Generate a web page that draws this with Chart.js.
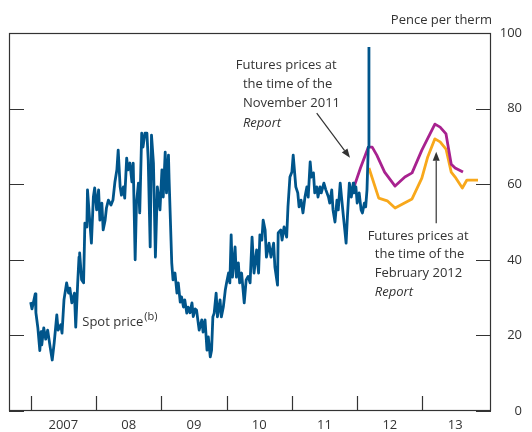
<!DOCTYPE html>
<html>
<head>
<meta charset="utf-8">
<script src="https://cdn.jsdelivr.net/npm/chart.js@4/dist/chart.umd.min.js"></script>
<style>
  html, body { margin: 0; padding: 0; background: #fff; }
</style>
</head>
<body>
<canvas id="gasChart" width="532" height="432"></canvas>
<script>
// UK wholesale gas prices: spot price and futures curves (pence per therm)

const yearTicks = [2007, 2008, 2009, 2010, 2011, 2012, 2013];
const yearLabels = ["2007", "08", "09", "10", "11", "12", "13"];
const valueTicks = [0, 20, 40, 60, 80, 100];

// spot price, dates as decimal years
const spotDates = [
  2007.00, 2007.02, 2007.07, 2007.08, 2007.11, 2007.14, 2007.16, 2007.17, 2007.20, 2007.23,
  2007.26, 2007.30, 2007.33, 2007.36, 2007.40, 2007.42, 2007.46, 2007.48, 2007.51, 2007.55,
  2007.58, 2007.60, 2007.63, 2007.67, 2007.69, 2007.72, 2007.74, 2007.75, 2007.78, 2007.81,
  2007.83, 2007.86, 2007.87, 2007.90, 2007.93, 2007.96, 2007.98, 2008.01, 2008.04, 2008.06,
  2008.09, 2008.11, 2008.14, 2008.16, 2008.19, 2008.23, 2008.26, 2008.29, 2008.32, 2008.34,
  2008.37, 2008.39, 2008.42, 2008.44, 2008.47, 2008.49, 2008.52, 2008.55, 2008.57, 2008.60,
  2008.62, 2008.65, 2008.67, 2008.70, 2008.72, 2008.75, 2008.78, 2008.80, 2008.83, 2008.85,
  2008.88, 2008.91, 2008.94, 2008.98, 2009.01, 2009.03, 2009.06, 2009.08, 2009.11, 2009.12,
  2009.16, 2009.18, 2009.21, 2009.24, 2009.26, 2009.29, 2009.31, 2009.34, 2009.36, 2009.39,
  2009.41, 2009.44, 2009.47, 2009.49, 2009.52, 2009.54, 2009.58, 2009.62, 2009.64, 2009.67,
  2009.70, 2009.72, 2009.75, 2009.77, 2009.79, 2009.81, 2009.84, 2009.86, 2009.90, 2009.92,
  2009.95, 2009.98, 2010.00, 2010.03, 2010.05, 2010.07, 2010.09, 2010.13, 2010.15, 2010.18,
  2010.20, 2010.23, 2010.27, 2010.30, 2010.33, 2010.36, 2010.39, 2010.42, 2010.46, 2010.49,
  2010.51, 2010.54, 2010.56, 2010.59, 2010.61, 2010.65, 2010.68, 2010.72, 2010.74, 2010.78,
  2010.79, 2010.83, 2010.85, 2010.88, 2010.92, 2010.94, 2010.97, 2011.00, 2011.02, 2011.06,
  2011.09, 2011.11, 2011.14, 2011.17, 2011.20, 2011.23, 2011.25, 2011.28, 2011.30, 2011.33,
  2011.35, 2011.38, 2011.40, 2011.43, 2011.45, 2011.49, 2011.52, 2011.56, 2011.58, 2011.61,
  2011.63, 2011.66, 2011.69, 2011.71, 2011.74, 2011.76, 2011.79, 2011.81, 2011.83, 2011.85,
  2011.88, 2011.91, 2011.94, 2011.95, 2011.98, 2012.00, 2012.03, 2012.06, 2012.08, 2012.11,
  2012.13, 2012.15, 2012.17, 2012.18
];
const spotPrice = [
  28.8, 27.0, 31.0, 26.0, 22.0, 16.0, 21.0, 17.5, 22.0, 19.0,
  21.4, 16.7, 13.5, 18.0, 25.4, 21.4, 22.8, 20.6, 29.4, 33.9,
  31.2, 32.5, 28.6, 31.2, 22.2, 33.9, 40.7, 41.8, 34.7, 33.9,
  49.7, 48.7, 58.5, 51.3, 44.4, 56.6, 59.0, 53.2, 58.5, 50.5,
  55.0, 47.9, 50.5, 53.7, 55.8, 54.5, 55.8, 60.6, 63.8, 69.0,
  59.3, 57.1, 59.3, 56.3, 66.9, 63.8, 65.6, 60.6, 65.6, 40.0,
  55.0, 60.3, 52.4, 73.5, 69.8, 73.5, 73.5, 66.4, 43.4, 73.0,
  65.6, 40.7, 59.3, 53.2, 63.8, 56.6, 68.5, 57.7, 67.7, 61.1,
  39.2, 34.7, 36.5, 31.2, 33.9, 28.8, 30.2, 27.5, 29.4, 25.9,
  27.5, 26.0, 28.6, 25.0, 27.0, 26.7, 21.4, 24.1, 20.9, 24.1,
  16.1, 19.6, 14.3, 16.1, 24.9, 25.9, 31.2, 24.9, 29.4, 24.9,
  27.5, 32.0, 33.9, 36.5, 33.9, 46.6, 35.4, 43.4, 35.4, 39.2,
  33.9, 36.5, 28.6, 34.7, 35.6, 33.9, 46.0, 36.5, 42.6, 36.5,
  46.6, 45.2, 50.5, 47.9, 40.7, 44.4, 40.7, 44.4, 38.1, 33.3,
  47.1, 47.9, 45.2, 48.7, 46.0, 54.0, 61.9, 63.2, 67.7, 59.3,
  57.7, 54.0, 55.8, 52.4, 56.6, 59.3, 56.6, 65.9, 61.9, 63.0,
  57.7, 59.3, 56.6, 59.3, 57.7, 60.3, 58.5, 56.6, 55.0, 58.5,
  53.2, 50.0, 55.8, 53.2, 60.3, 56.6, 51.3, 47.9, 44.4, 51.3,
  60.3, 56.6, 60.3, 57.7, 59.3, 55.0, 57.7, 53.2, 52.4, 55.0,
  54.0, 58.5, 69.8, 96.3
];

// futures curve at the time of the November 2011 Report
const novDates = [2011.94, 2012.05, 2012.17, 2012.23, 2012.30, 2012.42, 2012.58, 2012.73,
  2012.84, 2012.99, 2013.19, 2013.27, 2013.36, 2013.44, 2013.50, 2013.62];
const novPrice = [58.7, 64.3, 69.8, 69.8, 67.7, 63.2, 59.5, 61.9,
  63.0, 69.0, 75.9, 75.1, 73.3, 65.3, 64.3, 63.2];

// futures curve at the time of the February 2012 Report
const febDates = [2012.18, 2012.33, 2012.46, 2012.58, 2012.84, 2012.99, 2013.08, 2013.19,
  2013.27, 2013.36, 2013.44, 2013.50, 2013.61, 2013.68, 2013.85];
const febPrice = [64.3, 56.3, 55.6, 53.7, 56.1, 61.6, 67.2, 72.0,
  71.2, 69.3, 63.2, 61.9, 59.0, 61.1, 61.1];

const FONT = "'Open Sans', 'Noto Sans', sans-serif";
const INK = "#333333";

function points(xs, ys) {
  return xs.map((x, i) => ({ x: x, y: ys[i] }));
}

function arrow(ctx, x1, y1, x2, y2) {
  const ang = Math.atan2(y2 - y1, x2 - x1);
  const len = 9, half = 3.5;
  ctx.beginPath();
  ctx.moveTo(x1, y1);
  ctx.lineTo(x2 - Math.cos(ang) * len, y2 - Math.sin(ang) * len);
  ctx.stroke();
  ctx.beginPath();
  ctx.moveTo(x2, y2);
  ctx.lineTo(x2 - Math.cos(ang) * len - Math.sin(ang) * half, y2 - Math.sin(ang) * len + Math.cos(ang) * half);
  ctx.lineTo(x2 - Math.cos(ang) * len + Math.sin(ang) * half, y2 - Math.sin(ang) * len - Math.cos(ang) * half);
  ctx.closePath();
  ctx.fill();
}

// box, inward tick marks and the text notes
const frame = {
  id: "frame",
  afterDraw(chart) {
    const ctx = chart.ctx;
    const a = chart.chartArea;
    const x = chart.scales.x, y = chart.scales.y;
    ctx.save();
    ctx.strokeStyle = INK;
    ctx.fillStyle = INK;
    ctx.lineWidth = 1.2;
    ctx.strokeRect(a.left + 0.5, a.top + 0.5, a.right - a.left - 1, a.bottom - a.top - 1);

    ctx.beginPath();
    valueTicks.forEach(v => {
      const py = Math.round(y.getPixelForValue(v)) + 0.5;
      ctx.moveTo(a.left, py); ctx.lineTo(a.left + 15, py);
      ctx.moveTo(a.right - 15, py); ctx.lineTo(a.right, py);
    });
    yearTicks.forEach(t => {
      const px = Math.round(x.getPixelForValue(t)) + 0.5;
      ctx.moveTo(px, a.bottom); ctx.lineTo(px, a.bottom - 15);
    });
    ctx.stroke();

    ctx.textBaseline = "middle";
    ctx.font = "13px " + FONT;
    ctx.textAlign = "right";
    ctx.fillText("Pence per therm", a.right + 1, 20);

    ctx.textAlign = "left";
    // November 2011 note
    const n1 = x.getPixelForValue(2010.25);
    ctx.fillText("Futures prices at", x.getPixelForValue(2010.14), y.getPixelForValue(91.5));
    ctx.fillText("the time of the", n1, y.getPixelForValue(86.5));
    ctx.fillText("November 2011", n1, y.getPixelForValue(81.3));
    // February 2012 note
    const n2 = x.getPixelForValue(2012.27);
    ctx.fillText("Futures prices at", x.getPixelForValue(2012.16), y.getPixelForValue(46.3));
    ctx.fillText("the time of the", n2, y.getPixelForValue(41.5));
    ctx.fillText("February 2012", n2, y.getPixelForValue(36.5));
    // spot label with superscript
    const sx = x.getPixelForValue(2007.79), sy = y.getPixelForValue(23.5);
    ctx.fillText("Spot price", sx, sy);
    const w = ctx.measureText("Spot price").width;
    ctx.font = "11px " + FONT;
    ctx.fillText("(b)", sx + w + 1, sy - 5);

    ctx.font = "italic 13px " + FONT;
    ctx.fillText("Report", n1, y.getPixelForValue(76.2));
    ctx.fillText("Report", n2, y.getPixelForValue(31.4));

    ctx.lineWidth = 1.2;
    arrow(ctx, x.getPixelForValue(2011.38), y.getPixelForValue(78.8),
      x.getPixelForValue(2011.89), y.getPixelForValue(67.0));
    arrow(ctx, x.getPixelForValue(2013.21), y.getPixelForValue(49.7),
      x.getPixelForValue(2013.21), y.getPixelForValue(68.6));
    ctx.restore();
  }
};

const lineStyle = { pointRadius: 0, borderWidth: 2.8, tension: 0, fill: false, borderJoinStyle: "round" };

new Chart(document.getElementById("gasChart"), {
  type: "line",
  data: {
    datasets: [
      Object.assign({ label: "Spot price", data: points(spotDates, spotPrice), borderColor: "#00558b", order: 0 }, lineStyle),
      Object.assign({ label: "November 2011 futures", data: points(novDates, novPrice), borderColor: "#a8228f", order: 1 }, lineStyle),
      Object.assign({ label: "February 2012 futures", data: points(febDates, febPrice), borderColor: "#f8a81b", order: 2 }, lineStyle)
    ]
  },
  options: {
    responsive: false,
    animation: false,
    layout: { padding: { top: 33, left: 9, right: 10, bottom: 0 } },
    plugins: { legend: { display: false }, tooltip: { enabled: false } },
    scales: {
      x: {
        type: "linear",
        min: 2006.668,
        max: 2014.049,
        grid: { display: false, drawTicks: false },
        border: { display: false },
        afterBuildTicks: s => { s.ticks = yearTicks.map(t => ({ value: t + 0.5 })); },
        afterFit: s => { s.height = 21; },
        ticks: {
          autoSkip: false, maxRotation: 0, padding: 6, color: INK,
          font: { family: FONT, size: 13 },
          callback: (v, i) => yearLabels[i]
        }
      },
      y: {
        position: "right",
        min: 0,
        max: 100,
        grid: { display: false, drawTicks: false },
        border: { display: false },
        afterBuildTicks: s => { s.ticks = valueTicks.map(v => ({ value: v })); },
        afterFit: s => { s.width = 31; },
        ticks: {
          padding: 9, crossAlign: "far", color: INK,
          font: { family: FONT, size: 13 }
        }
      }
    }
  },
  plugins: [frame]
});
</script>
</body>
</html>
